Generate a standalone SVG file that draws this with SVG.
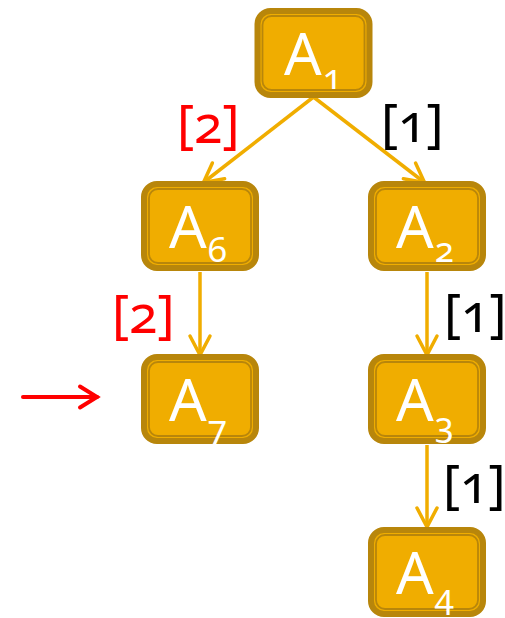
<svg xmlns="http://www.w3.org/2000/svg" width="505" height="618" viewBox="0 0 505 618">
  <defs>
    <style>
      .box { fill: #F0AD00; stroke: #B8860B; stroke-width: 6; }
      .inner { fill: none; stroke: #B8860B; stroke-width: 1.8; }
      .name { font-family: "Noto Sans", "Open Sans", sans-serif; font-size: 59px; fill: #FFFFFF; }
      .sub { font-size: 35px; font-variant-numeric: oldstyle-nums; font-feature-settings: "onum" 1; }
      .edge { fill: none; stroke: #F0AD00; stroke-width: 3.5; }
      .label { font-family: "Noto Sans", "Open Sans", sans-serif; font-size: 52px; font-variant-numeric: oldstyle-nums; font-feature-settings: "onum" 1; }
      .red { fill: #FF0000; }
      .black { fill: #000000; }
    </style>
    <marker id="head" markerUnits="userSpaceOnUse" markerWidth="30" markerHeight="30" viewBox="-25 -15 30 30" refX="0" refY="0" orient="auto">
      <path d="M-19,-10 L0,0 L-19,10" fill="none" stroke="#F0AD00" stroke-width="3.5" stroke-linecap="round" stroke-linejoin="miter"/>
    </marker>
    <marker id="headRed" markerUnits="userSpaceOnUse" markerWidth="30" markerHeight="30" viewBox="-25 -15 30 30" refX="0" refY="0" orient="auto">
      <path d="M-17,-10.5 L0,0 L-17,10.5" fill="none" stroke="#FF0000" stroke-width="4" stroke-linecap="round" stroke-linejoin="miter"/>
    </marker>
  </defs>

  <!-- connectors -->
  <g id="edges">
    <path class="edge" d="M313.5,97 L203.5,182.5" marker-end="url(#head)"/>
    <path class="edge" d="M313.5,97 L424.5,182.5" marker-end="url(#head)"/>
    <path class="edge" d="M200,272 L200,355" marker-end="url(#head)"/>
    <path class="edge" d="M427,272 L427,355" marker-end="url(#head)"/>
    <path class="edge" d="M427,445 L427,527" marker-end="url(#head)"/>
  </g>

  <!-- edge weights -->
  <g id="weights">
    <text class="label red" x="177" y="143">[2]</text>
    <text class="label black" x="381" y="142">[1]</text>
    <text class="label red" x="112" y="333">[2]</text>
    <text class="label black" x="444" y="332">[1]</text>
    <text class="label black" x="443" y="503">[1]</text>
  </g>

  <!-- pointer -->
  <g id="pointer">
    <path d="M23,397 L97,397" fill="none" stroke="#FF0000" stroke-width="4" stroke-linecap="round" marker-end="url(#headRed)"/>
  </g>

  <!-- nodes -->
  <g id="A1">
    <rect class="box" x="257.5" y="11" width="112" height="84" rx="13"/>
    <rect class="inner" x="262.5" y="16" width="102" height="74" rx="9"/>
    <text class="name" x="284" y="75">A<tspan class="sub" y="89" dx="1">1</tspan></text>
  </g>
  <g id="A6">
    <rect class="box" x="144" y="184" width="112" height="84" rx="13"/>
    <rect class="inner" x="149" y="189" width="102" height="74" rx="9"/>
    <text class="name" x="169" y="248">A<tspan class="sub" y="262" dx="1">6</tspan></text>
  </g>
  <g id="A2">
    <rect class="box" x="371" y="184" width="112" height="84" rx="13"/>
    <rect class="inner" x="376" y="189" width="102" height="74" rx="9"/>
    <text class="name" x="396" y="248">A<tspan class="sub" y="262" dx="1">2</tspan></text>
  </g>
  <g id="A7">
    <rect class="box" x="144" y="357" width="112" height="84" rx="13"/>
    <rect class="inner" x="149" y="362" width="102" height="74" rx="9"/>
    <text class="name" x="169" y="421">A<tspan class="sub" y="440" dx="1">7</tspan></text>
  </g>
  <g id="A3">
    <rect class="box" x="371" y="357" width="112" height="84" rx="13"/>
    <rect class="inner" x="376" y="362" width="102" height="74" rx="9"/>
    <text class="name" x="396" y="421">A<tspan class="sub" y="437" dx="1">3</tspan></text>
  </g>
  <g id="A4">
    <rect class="box" x="371" y="530" width="112" height="84" rx="13"/>
    <rect class="inner" x="376" y="535" width="102" height="74" rx="9"/>
    <text class="name" x="396" y="594">A<tspan class="sub" y="609" dx="1">4</tspan></text>
  </g>
</svg>
